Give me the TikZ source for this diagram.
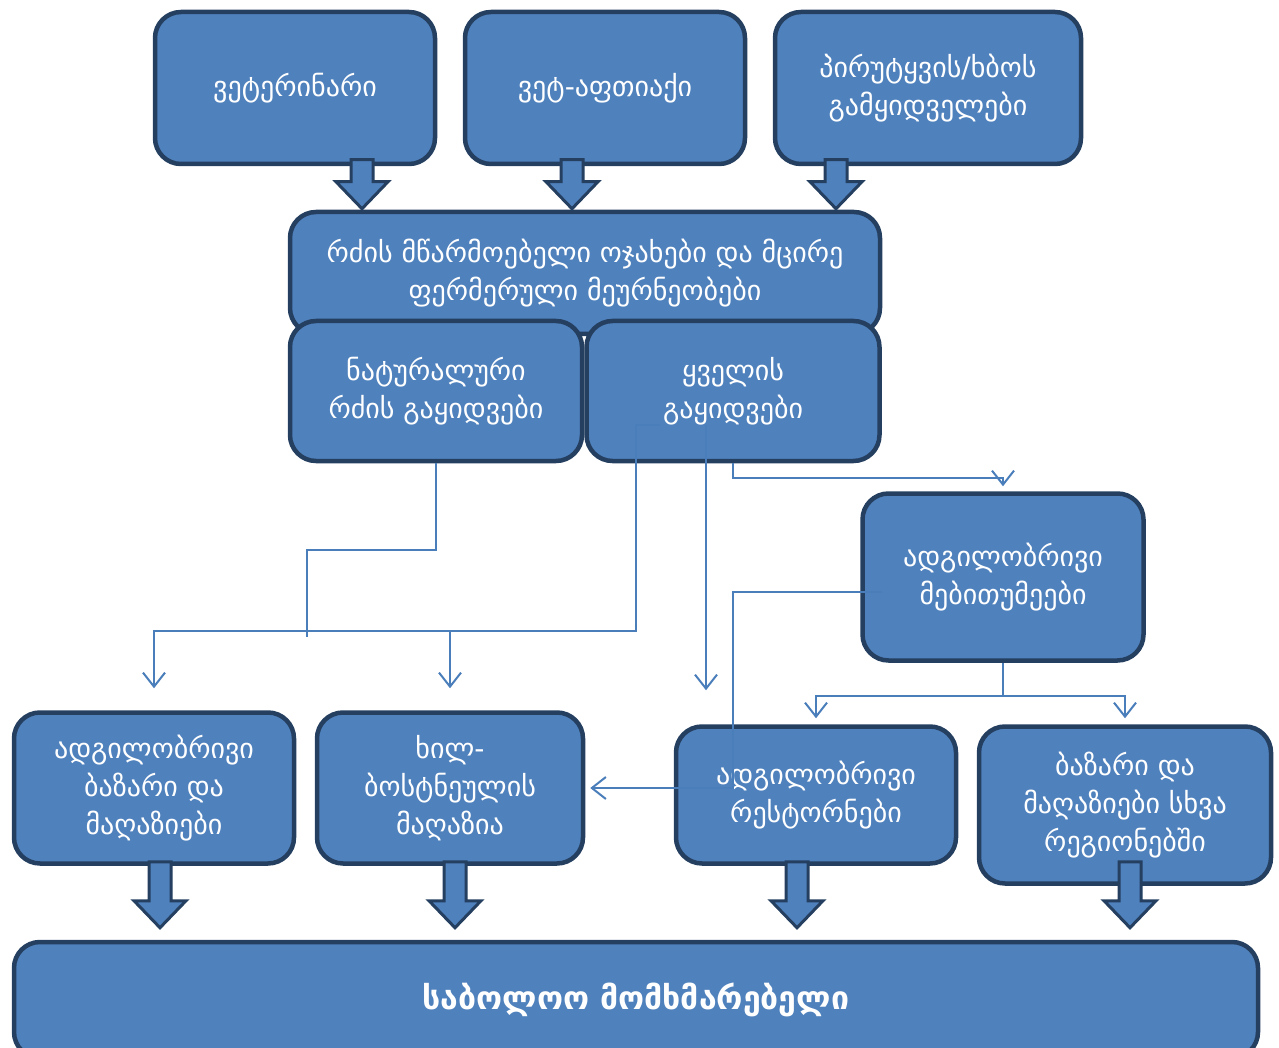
\documentclass[tikz,border=0pt]{standalone}
\usepackage{fontspec}
\newfontfamily\geo{DejaVu Sans}
\usetikzlibrary{calc,arrows.meta}
\definecolor{boxfill}{HTML}{4F81BD}
\definecolor{boxline}{HTML}{243F60}
\definecolor{linkcol}{HTML}{4A7EBB}
\tikzset{
  box/.style={draw=boxline,fill=boxfill,line width=4.5pt,rounded corners=26pt,
    text=white,align=center,inner sep=0pt,font=\geo\fontsize{28}{38}\selectfont},
  link/.style={draw=linkcol,line width=2pt},
  arr/.style={link,-{Straight Barb[length=14pt,width=22pt,line width=2pt]},shorten >=#1},
  arr/.default=4pt,
  blockarr/.style={draw=boxline,fill=boxfill,line width=3pt,line join=miter}
}
\begin{document}
\begin{tikzpicture}[x=1pt,y=-1pt]
\useasboundingbox (0,0) rectangle (1279,1048);

%upper row
\node[box,minimum width=280,minimum height=152] (vet) at (295,88) {ვეტერინარი};
\node[box,minimum width=280,minimum height=152] (apt) at (605,88) {ვეტ-აფთიაქი};
\node[box,minimum width=306,minimum height=152] (sel) at (928,88) {პირუტყვის/ხბოს\\გამყიდველები};

%farms
\node[box,minimum width=590,minimum height=122] (farm) at (585,273) {რძის მწარმოებელი ოჯახები და მცირე\\ფერმერული მეურნეობები};
\node[box,minimum width=292,minimum height=140] (nat) at (436,391) {ნატურალური\\რძის გაყიდვები};
\node[box,minimum width=293,minimum height=140] (chz) at (733,391) {ყველის\\გაყიდვები};

\node[box,minimum width=281,minimum height=167] (whl) at (1003,577) {ადგილობრივი\\მებითუმეები};

%lower row
\node[box,minimum width=280,minimum height=151] (mkt) at (154,788) {ადგილობრივი\\ბაზარი და\\მაღაზიები};
\node[box,minimum width=266,minimum height=151] (veg) at (450,788) {ხილ-\\ბოსტნეულის\\მაღაზია};
\node[box,minimum width=280,minimum height=137] (rst) at (816,795) {ადგილობრივი\\რესტორნები};
\node[box,minimum width=292,minimum height=157] (reg) at (1125,805) {ბაზარი და\\მაღაზიები სხვა\\რეგიონებში};

\node[box,minimum width=1244,minimum height=116,
  font=\geo\bfseries\fontsize{32}{38}\selectfont] (cons) at (636,1000) {საბოლოო მომხმარებელი};

%thin connectors
\coordinate (c1) at (660,425);
\coordinate (c2) at (706,425);
\coordinate (w1) at (882,592);
\coordinate (j1) at (636,631);

\draw[link] (nat.south) |- (307,550) -- (307,637);
\draw[arr=22pt] (c1) -| (j1) -| (mkt.north);
\draw[arr=22pt] (veg.north |- j1) -- (veg.north);
\draw[arr=34pt] (c2) -- (c2 |- rst.north);
\draw[arr=5pt] (chz.south) -- ++(0,15) -| (whl.north);
\draw[arr=5pt] (w1) -| (733,788) -- (veg.east);
\draw[link] (whl.south) -- ++(0,33) coordinate (w2);
\draw[arr=6pt] (w2) -| (rst.north);
\draw[arr=6pt] (w2) -| (reg.north);

%block arrows
\foreach \u/\t/\l/\g in {362/farm/49pt/1pt,572/farm/49pt/1pt,836/farm/49pt/1pt,
  160/cons/66pt/12pt,455/cons/66pt/12pt,797/cons/66pt/12pt,1130/cons/66pt/12pt}
  \draw[blockarr] let \p1=(\u,0 |- \t.north) in
    (\x1-11pt,\y1+\g+\l) -- (\x1-11pt,\y1+\g+27pt) -- (\x1-26pt,\y1+\g+27pt)
    -- (\x1,\y1+\g) -- (\x1+26pt,\y1+\g+27pt) -- (\x1+11pt,\y1+\g+27pt)
    -- (\x1+11pt,\y1+\g+\l) -- cycle;

\end{tikzpicture}
\end{document}
